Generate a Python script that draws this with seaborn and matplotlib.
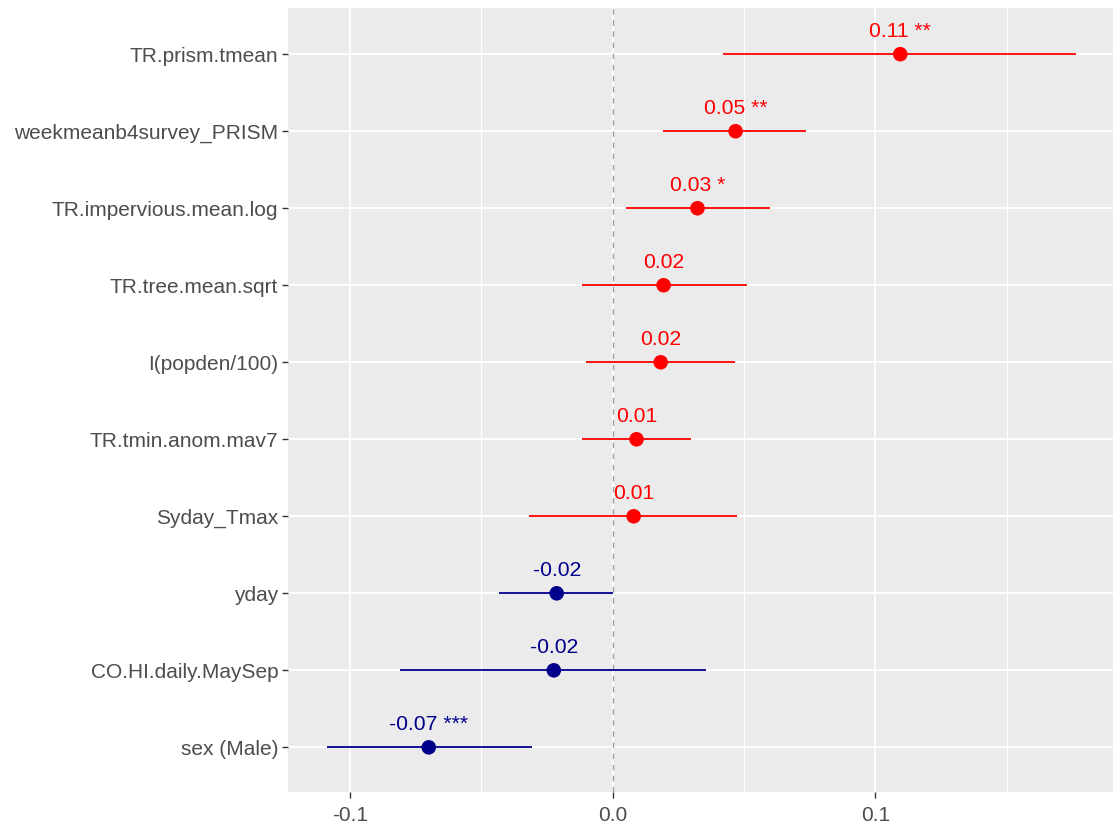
import matplotlib
matplotlib.use("Agg")
import matplotlib.pyplot as plt
import seaborn as sns
import pandas as pd
import numpy as np
from matplotlib.ticker import FixedLocator

terms = ["TR.prism.tmean", "weekmeanb4survey_PRISM", "TR.impervious.mean.log",
         "TR.tree.mean.sqrt", "I(popden/100)", "TR.tmin.anom.mav7", "Syday_Tmax",
         "yday", "CO.HI.daily.MaySep", "sex (Male)"]
estimate = [0.1095, 0.0468, 0.0323, 0.0194, 0.0183, 0.0091, 0.0080, -0.0213, -0.0224, -0.0700]
ci_low = [0.0422, 0.0190, 0.0049, -0.0118, -0.0103, -0.0118, -0.0319, -0.0433, -0.0810, -0.1087]
ci_high = [0.1764, 0.0738, 0.0601, 0.0513, 0.0464, 0.0300, 0.0475, 0.0000, 0.0354, -0.0308]
stars = ["**", "**", "*", "", "", "", "", "", "", "***"]
x_ticks = [-0.1, 0.0, 0.1]
x_tick_labels = ["-0.1", "0.0", "0.1"]

df = pd.DataFrame({"term": terms, "estimate": estimate, "low": ci_low,
                   "high": ci_high, "stars": stars})
df["sign"] = np.where(df["estimate"] > 0, "pos", "neg")
df["y"] = np.arange(len(df))
palette = {"pos": "#FF0000", "neg": "#00008B"}

sns.set_theme(style="darkgrid", rc={"axes.facecolor": "#EBEBEB",
                                    "grid.color": "white"})
plt.rcParams["font.family"] = ["Liberation Sans", "DejaVu Sans"]

fig = plt.figure(figsize=(11.13, 8.31), dpi=100)
ax = fig.add_axes([288 / 1113, 39 / 831, (1113 - 288) / 1113, (792 - 8) / 831])

ax.set_xlim(-0.1236, 0.1905)
ax.set_ylim(9.58, -0.6)

ax.xaxis.set_major_locator(FixedLocator(x_ticks))
ax.xaxis.set_minor_locator(FixedLocator([-0.05, 0.05, 0.15]))
ax.grid(which="major", color="white", linewidth=1.3)
ax.grid(which="minor", axis="x", color="white", linewidth=0.8)
ax.set_axisbelow(True)

ax.axvline(0, color="#9E9E9E", linestyle=(0, (4, 4)), linewidth=1.0, zorder=1)

for _, r in df.iterrows():
    ax.hlines(r["y"], r["low"], r["high"], color=palette[r["sign"]], linewidth=1.3, zorder=2)

sns.scatterplot(data=df, x="estimate", y="y", hue="sign", palette=palette,
                s=110, edgecolor="none", legend=False, ax=ax, zorder=3)

for _, r in df.iterrows():
    lab = f"{r['estimate']:.2f}" + (f" {r['stars']}" if r["stars"] else "")
    ax.text(r["estimate"], r["y"] - 0.3, lab, color=palette[r["sign"]],
            ha="center", va="center", fontsize=15.2)

ax.set_yticks(df["y"])
ax.set_yticklabels(df["term"])
ax.set_xticklabels(x_tick_labels)
ax.tick_params(axis="both", which="major", labelsize=15, labelcolor="#4D4D4D",
               length=4, width=1, color="#333333", pad=3, left=True, bottom=True)
ax.tick_params(axis="x", which="major", pad=6)
ax.tick_params(axis="x", which="minor", length=0)
ax.set_xlabel("")
ax.set_ylabel("")
for s in ax.spines.values():
    s.set_visible(False)

fig.savefig("out.png", dpi=100)
